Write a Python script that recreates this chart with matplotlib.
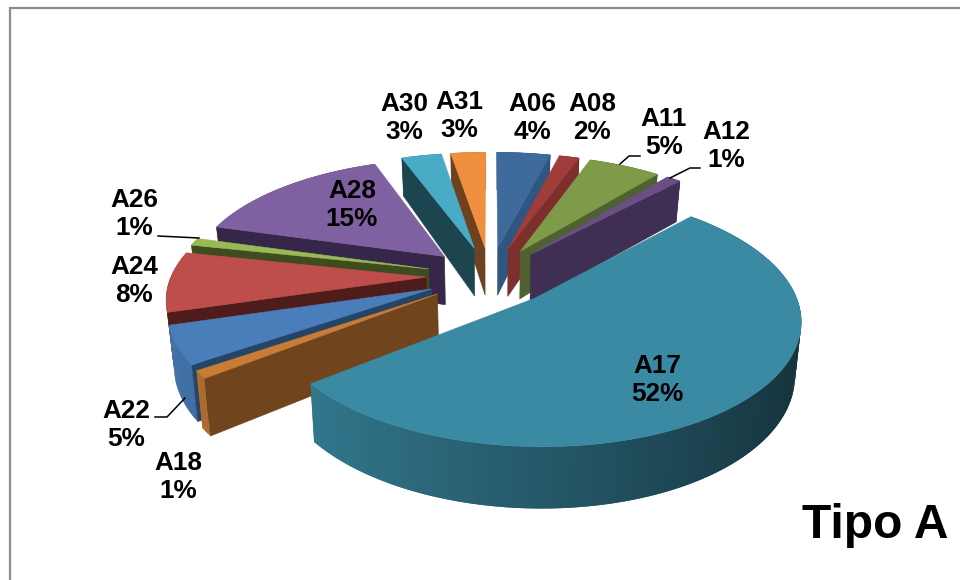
import numpy as np
import matplotlib
matplotlib.use("Agg")
import matplotlib.pyplot as plt
from matplotlib.colors import to_rgb

categories = ["A06", "A08", "A11", "A12", "A17", "A18", "A22", "A24", "A26", "A28", "A30", "A31"]
values = [4, 1.5, 5.4, 1.1, 52.4, 1, 5, 8, 1, 15, 3, 2.6]
top_colors = ["#3E6A9C", "#9E3D3A", "#7F9A48", "#6A4F85", "#3A8AA3", "#C87C36",
              "#4A7EBB", "#BD4E4B", "#98B954", "#7F60A0", "#4AABC6", "#F0903F"]
wall_colors = ["#2F5580", "#7D2F2D", "#4F6130", "#3F2F52", "#24505F", "#70451E",
               "#254466", "#4F1C1C", "#3F4C20", "#35264A", "#1D4550", "#6E421E"]
label_centers = [(532, 118), (592, 118), (664, 133), (726, 146), (657, 380), (178, 477),
                 (126, 425), (134, 281), (134, 214), (352, 205), (404, 118), (459, 116)]
leaders = [[(620, 164), (629, 156), (640, 156)],
           [(670, 178), (690, 168), (700, 168)],
           [(158, 236), (199, 238)],
           [(155, 417), (167, 417), (185, 398)]]

CX, CY, RX, RY, PERSP, EXPLODE, SHRINK = 490, 276, 255, 118, 0.153, 0.25, 0.98


def project(X, Y, low=False):
    X, Y = np.asarray(X, float), np.asarray(Y, float)
    p = 1 / (1 + PERSP * Y)
    x = RX * X * p
    y = CY - RY * Y * p
    if low:
        return CX + x * SHRINK, y + 50 - 10 * Y
    return CX + x, y


def shade(color, theta):
    f = np.clip(0.64 - 0.28 * np.sin(theta), 0, 1)
    return tuple(c * f for c in to_rgb(color))


fig = plt.figure(figsize=(9.6, 5.8), dpi=100, facecolor="white")
ax = fig.add_axes([0, 0, 1, 1])
ax.set_xlim(0, 960)
ax.set_ylim(580, 0)
ax.axis("off")

ax.plot([9.5, 9.5, 960], [580, 8, 8], color="#8C8C8C", lw=1.6, solid_joinstyle="miter")

total = sum(values)
edges = np.cumsum([0] + values) / total * 2 * np.pi
mids = (edges[:-1] + edges[1:]) / 2
order = np.argsort(-np.cos(mids))

for z, i in enumerate(order):
    a0, a1, m = edges[i], edges[i + 1], mids[i]
    ox, oy = EXPLODE * np.sin(m), EXPLODE * np.cos(m)
    th = np.linspace(a0, a1, max(6, int((a1 - a0) * 60)))
    Xr, Yr = ox + np.sin(th), oy + np.cos(th)
    base = 10 + z * 3

    # rim wall, each strip overlapping the next so no seams show
    tx, ty = project(Xr, Yr)
    lx, ly = project(Xr, Yr, low=True)
    n = len(th)
    for k in range(n - 1):
        e = min(k + 2, n - 1)
        c = shade(top_colors[i], (th[k] + th[k + 1]) / 2)
        ax.fill([tx[k], tx[e], lx[e], lx[k]], [ty[k], ty[e], ly[e], ly[k]],
                color=c, lw=0, zorder=base + k * 1e-3)

    # radial wall facing the viewer (a wedge wider than a half turn shows none)
    if a1 - a0 < np.pi:
        a = a1 if np.sin(m) > 0 else a0
        Xw, Yw = np.array([ox, ox + np.sin(a)]), np.array([oy, oy + np.cos(a)])
        wx, wy = project(Xw, Yw)
        lx2, ly2 = project(Xw, Yw, low=True)
        ax.fill(np.r_[wx, lx2[::-1]], np.r_[wy, ly2[::-1]], color=wall_colors[i], lw=0.4, zorder=base + 1)

    # top face
    ax_, ay_ = project([ox], [oy])
    ax.fill(np.r_[ax_, tx], np.r_[ay_, ty], color=top_colors[i], lw=0.4, zorder=base + 2)

for name, v, (x, y) in zip(categories, values, label_centers):
    ax.text(x, y, f"{name}\n{round(v)}%", ha="center", va="center", family="Liberation Sans",
            fontweight="bold", fontsize=18.8, color="black", linespacing=1.22, zorder=100)

for pts in leaders:
    xs, ys = zip(*pts)
    ax.plot(xs, ys, color="black", lw=1.1, zorder=99)

ax.text(948, 525, "Tipo A", ha="right", va="center", family="Liberation Sans",
        fontweight="bold", fontsize=34.5, color="black", zorder=100)

fig.savefig("out.png", dpi=100, facecolor="white")
